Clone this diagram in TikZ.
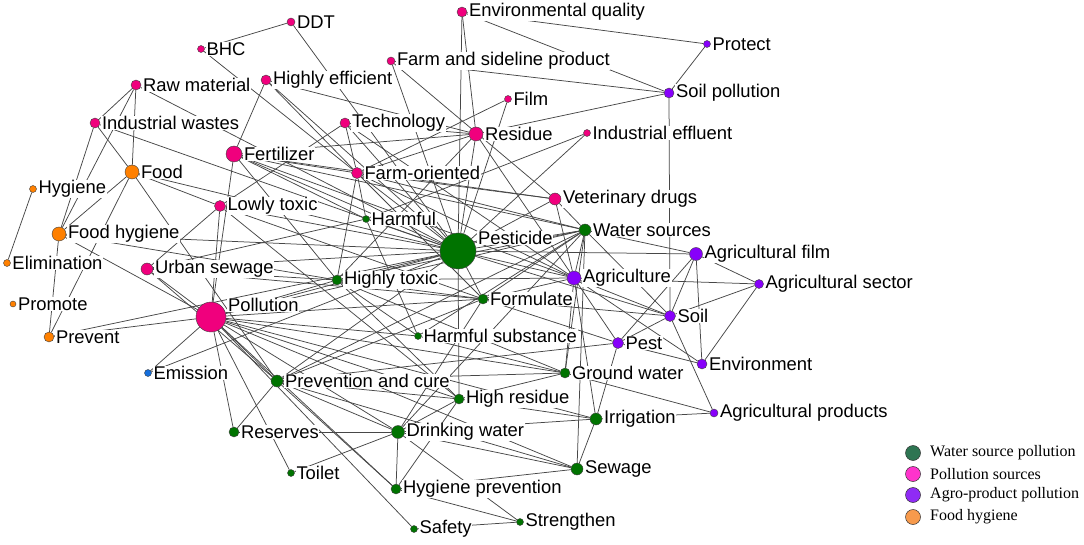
\documentclass[tikz,border=0pt]{standalone}
\usepackage{fontspec}
\setmainfont{Liberation Sans}
\newfontfamily\legfont{Liberation Serif}
\usepackage{tikz}
\usetikzlibrary{positioning}
\usetikzlibrary{backgrounds}

\definecolor{kwpink}{RGB}{240,0,125}
\definecolor{kwpurple}{RGB}{135,0,250}
\definecolor{kwgreen}{RGB}{0,115,0}
\definecolor{kworange}{RGB}{255,128,0}
\definecolor{kwblue}{RGB}{20,110,220}
\definecolor{lggreen}{RGB}{46,117,82}
\definecolor{lgpink}{RGB}{255,51,204}
\definecolor{lgpurple}{RGB}{143,43,245}
\definecolor{lgorange}{RGB}{247,154,76}

\begin{document}
\begin{tikzpicture}[x=1pt,y=-1pt,
    dot/.style={circle,draw=black!75,line width=0.4pt,inner sep=0pt},
    pinkdot/.style={dot,fill=kwpink},
    purpledot/.style={dot,fill=kwpurple},
    greendot/.style={dot,fill=kwgreen},
    orangedot/.style={dot,fill=kworange},
    bluedot/.style={dot,fill=kwblue},
    lbl/.style={fill=white,inner sep=0.6pt,font=\fontsize{18.4}{20}\selectfont},
    legdot/.style={circle,draw=black!80,line width=0.5pt,minimum size=15pt,inner sep=0pt},
    legtxt/.style={inner sep=0pt,anchor=west,font=\legfont\fontsize{16}{18}\selectfont},
    edge/.style={draw=black!72,line width=0.75pt}]
    \useasboundingbox (0,0) rectangle (1084,545);

    % Pollution sources
    \foreach \nm/\x/\y/\sz/\s/\txt in {ddt/291/22/8/0/DDT, bhc/201/49/7/0/BHC,
        rawmat/136/85/10/0/Raw material, higheff/266/80/10/0/Highly efficient,
        indwaste/95/123/10/0/Industrial wastes, tech/345/123/10/0/Technology,
        fert/234/154/16/0/Fertilizer, farmor/357/173/11/0/Farm-oriented,
        lowtox/220/206/11/0/Lowly toxic, urbsew/147/269/12/0/Urban sewage,
        poll/211/317/30/12/Pollution, envqual/462/12/10/0/Environmental quality,
        farmside/391/61/8/0/Farm and sideline product, film/508/99/7/0/Film,
        resid/476/134/14/0/Residue, indeff/587/133/7/0/Industrial effluent,
        vetdrug/555/199/12/0/Veterinary drugs}
    {
        \node[pinkdot,minimum size=\sz pt] (\nm) at (\x,\y) {};
        \node[lbl,right=1pt of \nm,yshift=\s pt] {\txt};
    }

    % Agro-product pollution
    \foreach \nm/\x/\y/\sz/\txt in {protect/707/44/7/Protect, soilpoll/669/93/10/Soil pollution,
        agfilm/696/254/13/Agricultural film, agri/574/278/14/Agriculture,
        agsector/759/284/9/Agricultural sector, soil/670/316/11/Soil,
        pest/618/343/11/Pest, environ/702/364/10/Environment,
        agprod/714/413/8/Agricultural products}
    {
        \node[purpledot,minimum size=\sz pt] (\nm) at (\x,\y) {};
        \node[lbl,right=1pt of \nm] {\txt};
    }

    % Water source pollution
    \foreach \nm/\x/\y/\sz/\s/\txt in {pesti/458/251/36/13/Pesticide, harmful/366/219/7/0/Harmful,
        watsrc/585/230/12/0/Water sources, hightox/337/280/10/0/Highly toxic,
        formul/483/299/10/0/Formulate, harmsub/418/336/7/0/Harmful substance,
        groundw/565/373/10/0/Ground water, prevcure/277/381/12/0/Prevention and cure,
        highres/459/399/10/0/High residue, irrig/596/419/12/0/Irrigation,
        reserves/234/432/10/0/Reserves, drinkw/398/432/13/0/Drinking water,
        toilet/291/473/7/0/Toilet, sewage/577/469/12/0/Sewage,
        hygprev/396/489/10/0/Hygiene prevention, safety/414/529/7/0/Safety,
        strength/520/522/7/0/Strengthen}
    {
        \node[greendot,minimum size=\sz pt] (\nm) at (\x,\y) {};
        \node[lbl,right=1pt of \nm,yshift=\s pt] {\txt};
    }

    % Food hygiene
    \foreach \nm/\x/\y/\sz/\txt in {food/132/172/14/Food, hygiene/33/189/7/Hygiene,
        foodhyg/59/234/14/Food hygiene, elim/7/263/7/Elimination,
        promote/13/304/6/Promote, prevent/49/337/10/Prevent}
    {
        \node[orangedot,minimum size=\sz pt] (\nm) at (\x,\y) {};
        \node[lbl,right=1pt of \nm] {\txt};
    }

    \node[bluedot,minimum size=7pt] (emission) at (148,373) {};
    \node[lbl,right=1pt of emission] {Emission};

    % Links
    \begin{pgfonlayer}{background}
    \foreach \a/\b in {ddt/bhc, ddt/pesti, bhc/farmor,
        rawmat/indwaste, rawmat/food, rawmat/foodhyg, rawmat/pesti,
        indwaste/food, indwaste/foodhyg, indwaste/pesti,
        food/foodhyg, food/lowtox, food/pesti, food/prevent, food/prevcure,
        hygiene/elim, foodhyg/prevent, foodhyg/poll, foodhyg/pesti, foodhyg/hightox,
        prevent/poll, prevent/pesti,
        higheff/fert, higheff/farmor, higheff/resid, higheff/pesti,
        fert/poll, fert/farmor, fert/pesti, fert/resid, fert/vetdrug, fert/watsrc,
        fert/agri, fert/harmful, fert/hightox,
        tech/lowtox, tech/resid, tech/farmor, tech/pesti, tech/agri,
        lowtox/poll, lowtox/urbsew, lowtox/pesti, lowtox/formul, lowtox/highres,
        farmor/resid, farmor/film, farmor/pesti, farmor/vetdrug, farmor/watsrc,
        farmor/agri, farmor/hightox, farmor/harmful, farmor/formul,
        farmside/vetdrug, farmside/soilpoll, farmside/pesti,
        envqual/pesti, envqual/resid, envqual/protect, envqual/soilpoll,
        film/pesti, resid/pesti, resid/agri, resid/hightox, soilpoll/resid,
        indeff/pesti, indeff/harmful,
        vetdrug/agri, vetdrug/watsrc, vetdrug/pesti,
        protect/soilpoll, soilpoll/soil,
        watsrc/pesti, watsrc/agri, watsrc/agfilm, watsrc/formul, watsrc/hightox,
        watsrc/harmsub, watsrc/groundw, watsrc/sewage, watsrc/soil,
        watsrc/prevcure, watsrc/drinkw,
        agri/pesti, agri/agsector, agri/soil, agri/pest, agri/environ,
        agri/groundw, agri/formul, agri/hightox, agri/irrig,
        agfilm/agsector, agfilm/environ, agfilm/pesti, agfilm/pest, agfilm/soil,
        agsector/soil, agsector/environ,
        soil/pest, soil/agprod, soil/formul, soil/pesti,
        pest/prevcure, pest/environ, pest/irrig, pest/formul,
        groundw/agprod, irrig/agprod,
        harmful/pesti, harmful/harmsub, harmful/urbsew,
        hightox/poll, hightox/formul, hightox/pesti, hightox/highres,
        hightox/groundw, hightox/urbsew,
        formul/poll, formul/pesti, formul/drinkw, formul/prevcure, formul/urbsew,
        harmsub/poll, harmsub/groundw, harmsub/hightox,
        groundw/poll, groundw/highres, groundw/prevcure,
        prevcure/poll, prevcure/pesti, prevcure/reserves, prevcure/drinkw,
        prevcure/hygprev, prevcure/sewage, prevcure/highres,
        highres/irrig, highres/pesti, highres/poll, highres/drinkw, highres/hygprev,
        irrig/sewage, irrig/drinkw,
        reserves/poll, reserves/drinkw,
        drinkw/hygprev, drinkw/sewage, drinkw/toilet, drinkw/poll, drinkw/strength,
        sewage/hygprev, sewage/poll, hygprev/strength, hygprev/poll,
        safety/strength, safety/poll, toilet/poll,
        emission/poll, emission/pesti,
        urbsew/poll, urbsew/pesti, urbsew/prevcure,
        poll/pesti, poll/irrig, poll/watsrc}
        \draw[edge] (\a) -- (\b);
    \end{pgfonlayer}

    % Legend
    \foreach \i/\y/\c/\txt in {1/453/lggreen/Water source pollution,
        2/474/lgpink/Pollution sources,
        3/495/lgpurple/Agro-product pollution,
        4/517/lgorange/Food hygiene}
    {
        \node[legdot,fill=\c] (leg\i) at (913,\y) {};
        \node[legtxt] at (930,\y) {\txt};
    }
\end{tikzpicture}
\end{document}
